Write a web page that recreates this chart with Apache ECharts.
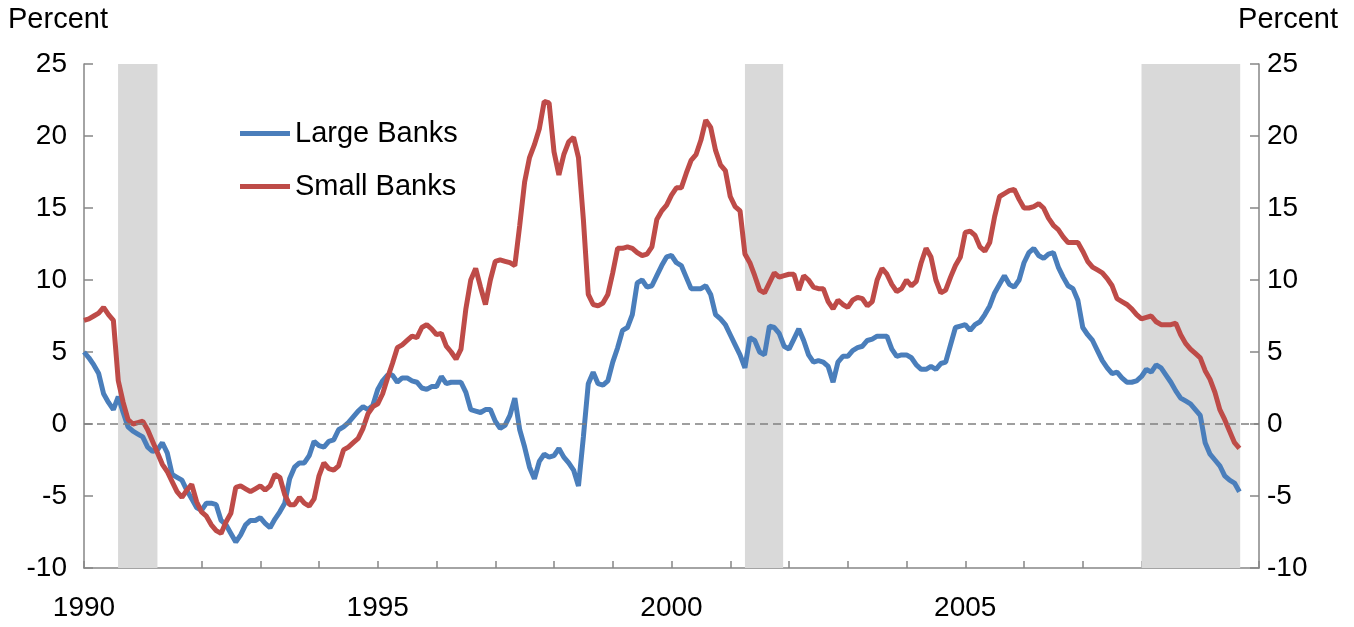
<!DOCTYPE html>
<html>
<head>
<meta charset="utf-8">
<script src="https://cdn.jsdelivr.net/npm/echarts@6/dist/echarts.min.js"></script>
<style>
  html, body { margin: 0; padding: 0; background: #fff; }
  #chart { width: 1354px; height: 627px; }
</style>
</head>
<body>
<div id="chart"></div>
<script>
// monthly values, January 1990 onwards
const startYear = 1990;
const yTicks = [-10, -5, 0, 5, 10, 15, 20, 25];
const xLabelYears = [1990, 1995, 2000, 2005];
const seriesNames = ['Large Banks', 'Small Banks'];

const largeBanks = [
  5.0, 4.6, 4.1, 3.5, 2.1, 1.5, 1.0, 1.9, 0.8, -0.2, -0.5, -0.7,
  -0.9, -1.6, -1.9, -1.8, -1.3, -2.0, -3.5, -3.7, -3.9, -4.6, -5.2, -5.8,
  -6.0, -5.5, -5.5, -5.6, -6.7, -7.0, -7.6, -8.2, -7.7, -7.0, -6.7, -6.7,
  -6.5, -6.9, -7.2, -6.6, -6.1, -5.5, -3.8, -3.0, -2.7, -2.7, -2.2, -1.2,
  -1.5, -1.6, -1.2, -1.1, -0.4, -0.2, 0.1, 0.5, 0.9, 1.2, 1.0, 1.3,
  2.4, 3.0, 3.4, 3.4, 2.9, 3.2, 3.2, 3.0, 2.9, 2.5, 2.4, 2.6,
  2.6, 3.3, 2.8, 2.9, 2.9, 2.9, 2.2, 1.0, 0.9, 0.8, 1.0, 1.0,
  0.2, -0.3, -0.1, 0.6, 1.8, -0.4, -1.6, -3.0, -3.8, -2.6, -2.1, -2.3,
  -2.2, -1.7, -2.3, -2.7, -3.2, -4.3, -0.9, 2.8, 3.6, 2.8, 2.7, 3.0,
  4.3, 5.3, 6.5, 6.7, 7.6, 9.8, 10.0, 9.5, 9.6, 10.3, 11.0, 11.6,
  11.7, 11.2, 11.0, 10.2, 9.4, 9.4, 9.4, 9.6, 9.0, 7.6, 7.3, 6.9,
  6.2, 5.5, 4.8, 3.9, 6.0, 5.8, 5.0, 4.8, 6.8, 6.7, 6.3, 5.4,
  5.2, 5.9, 6.6, 5.8, 4.8, 4.3, 4.4, 4.3, 4.0, 2.9, 4.3, 4.7,
  4.7, 5.1, 5.3, 5.4, 5.8, 5.9, 6.1, 6.1, 6.1, 5.2, 4.7, 4.8,
  4.8, 4.6, 4.1, 3.8, 3.8, 4.0, 3.8, 4.2, 4.3, 5.5, 6.7, 6.8,
  6.9, 6.5, 6.9, 7.1, 7.6, 8.2, 9.1, 9.7, 10.3, 9.7, 9.5, 10.0,
  11.2, 11.9, 12.2, 11.7, 11.5, 11.8, 11.9, 10.9, 10.2, 9.6, 9.4, 8.6,
  6.7, 6.2, 5.8, 5.1, 4.4, 3.9, 3.5, 3.6, 3.2, 2.9, 2.9, 3.0,
  3.3, 3.8, 3.6, 4.1, 3.9, 3.4, 2.9, 2.3, 1.8, 1.6, 1.4, 1.0,
  0.6, -1.3, -2.1, -2.5, -2.9, -3.6, -3.9, -4.1, -4.7
];

const smallBanks = [
  7.2, 7.3, 7.5, 7.7, 8.1, 7.6, 7.2, 3.0, 1.5, 0.3, 0.0, 0.1,
  0.2, -0.4, -1.2, -2.0, -2.8, -3.3, -4.0, -4.7, -5.1, -4.6, -4.2, -5.4,
  -6.1, -6.4, -7.0, -7.4, -7.6, -6.8, -6.2, -4.4, -4.3, -4.5, -4.7, -4.5,
  -4.3, -4.6, -4.3, -3.5, -3.7, -4.9, -5.6, -5.6, -5.1, -5.5, -5.7, -5.2,
  -3.6, -2.7, -3.1, -3.2, -2.9, -1.8, -1.6, -1.3, -1.0, -0.3, 0.7, 1.2,
  1.4, 2.1, 3.2, 4.2, 5.3, 5.5, 5.8, 6.1, 6.0, 6.7, 6.9, 6.6,
  6.2, 6.3, 5.4, 5.0, 4.5, 5.2, 8.0, 10.0, 10.8, 9.5, 8.3, 10.0,
  11.3, 11.4, 11.3, 11.2, 11.0, 13.8, 16.8, 18.5, 19.4, 20.5, 22.4, 22.3,
  18.9, 17.3, 18.7, 19.6, 19.9, 18.5, 14.2, 9.0, 8.3, 8.2, 8.4, 9.0,
  10.5, 12.2, 12.2, 12.3, 12.2, 11.9, 11.7, 11.8, 12.3, 14.2, 14.8, 15.2,
  15.9, 16.4, 16.4, 17.4, 18.3, 18.7, 19.7, 21.1, 20.6, 19.0, 18.0, 17.6,
  15.8, 15.1, 14.8, 11.8, 11.2, 10.3, 9.3, 9.1, 9.8, 10.5, 10.2, 10.3,
  10.4, 10.4, 9.3, 10.3, 10.0, 9.5, 9.4, 9.4, 8.5, 8.0, 8.6, 8.3,
  8.1, 8.6, 8.8, 8.7, 8.2, 8.5, 10.0, 10.8, 10.4, 9.7, 9.2, 9.4,
  10.0, 9.6, 9.9, 11.2, 12.2, 11.6, 10.0, 9.1, 9.3, 10.2, 11.0, 11.6,
  13.3, 13.4, 13.1, 12.3, 12.0, 12.6, 14.4, 15.8, 16.0, 16.2, 16.3, 15.6,
  15.0, 15.0, 15.1, 15.3, 15.0, 14.3, 13.8, 13.5, 13.0, 12.6, 12.6, 12.6,
  12.0, 11.3, 10.9, 10.7, 10.5, 10.1, 9.6, 8.7, 8.5, 8.3, 8.0, 7.6,
  7.3, 7.4, 7.5, 7.1, 6.9, 6.9, 6.9, 7.0, 6.2, 5.6, 5.2, 4.9,
  4.6, 3.7, 3.1, 2.2, 1.0, 0.3, -0.5, -1.3, -1.7
];

// recession periods, in decimal years
const recessions = [[1990.58, 1991.25], [2001.25, 2001.9], [2008.0, 2009.68]];

const font = "'Liberation Sans', Arial, sans-serif";
const axisGray = '#868686';

function toPoints(vals) {
  return vals.map((v, i) => [startYear + i / 12, v]);
}

const chart = echarts.init(document.getElementById('chart'));

const yAxisBase = {
  type: 'value',
  min: yTicks[0],
  max: yTicks[yTicks.length - 1],
  interval: 5,
  axisLine: { show: true, lineStyle: { color: axisGray, width: 1.5 } },
  axisTick: { show: true, inside: true, length: 9, lineStyle: { color: axisGray, width: 1.5 } },
  splitLine: { show: false },
  axisLabel: { color: '#000', fontFamily: font, fontSize: 28 }
};

chart.setOption({
  animation: false,
  backgroundColor: '#fff',
  textStyle: { fontFamily: font },
  grid: { left: 84, right: 95, top: 64, bottom: 59, containLabel: false },
  graphic: [
    { type: 'text', left: 8, top: 5, style: { text: 'Percent', font: '29px ' + font, fill: '#000' } },
    { type: 'text', right: 16, top: 5, style: { text: 'Percent', font: '29px ' + font, fill: '#000' } }
  ],
  legend: {
    data: seriesNames,
    orient: 'vertical',
    left: 240,
    top: 118,
    padding: 0,
    icon: 'rect',
    itemWidth: 50,
    itemHeight: 5,
    itemGap: 22,
    textStyle: { fontFamily: font, fontSize: 29, color: '#000', lineHeight: 31 }
  },
  xAxis: {
    type: 'value',
    min: 1990,
    max: 2010,
    interval: 1,
    axisLine: { show: true, onZero: false, lineStyle: { color: axisGray, width: 1.5 } },
    axisTick: { show: true, inside: true, length: 7, lineStyle: { color: axisGray, width: 1.5 } },
    splitLine: { show: false },
    axisLabel: {
      color: '#000',
      fontFamily: font,
      fontSize: 28,
      margin: 26,
      formatter: v => (xLabelYears.indexOf(v) >= 0 ? String(v) : '')
    }
  },
  yAxis: [
    Object.assign({}, yAxisBase, { position: 'left', axisLabel: Object.assign({}, yAxisBase.axisLabel, { margin: 17 }) }),
    Object.assign({}, yAxisBase, { position: 'right', axisLabel: Object.assign({}, yAxisBase.axisLabel, { margin: 8 }) })
  ],
  series: [
    {
      name: 'bands',
      type: 'line',
      data: [],
      silent: true,
      markArea: {
        silent: true,
        itemStyle: { color: '#d9d9d9' },
        data: recessions.map(r => [{ xAxis: r[0] }, { xAxis: r[1] }])
      },
      markLine: {
        silent: true,
        symbol: 'none',
        label: { show: false },
        lineStyle: { color: '#808080', type: [8, 5], width: 1.5 },
        data: [{ yAxis: 0 }]
      }
    },
    {
      name: seriesNames[0],
      type: 'line',
      data: toPoints(largeBanks),
      symbol: 'none',
      lineStyle: { color: '#4a7ebb', width: 5 },
      itemStyle: { color: '#4a7ebb' }
    },
    {
      name: seriesNames[1],
      type: 'line',
      data: toPoints(smallBanks),
      symbol: 'none',
      lineStyle: { color: '#be4b48', width: 5 },
      itemStyle: { color: '#be4b48' }
    }
  ]
});
</script>
</body>
</html>
